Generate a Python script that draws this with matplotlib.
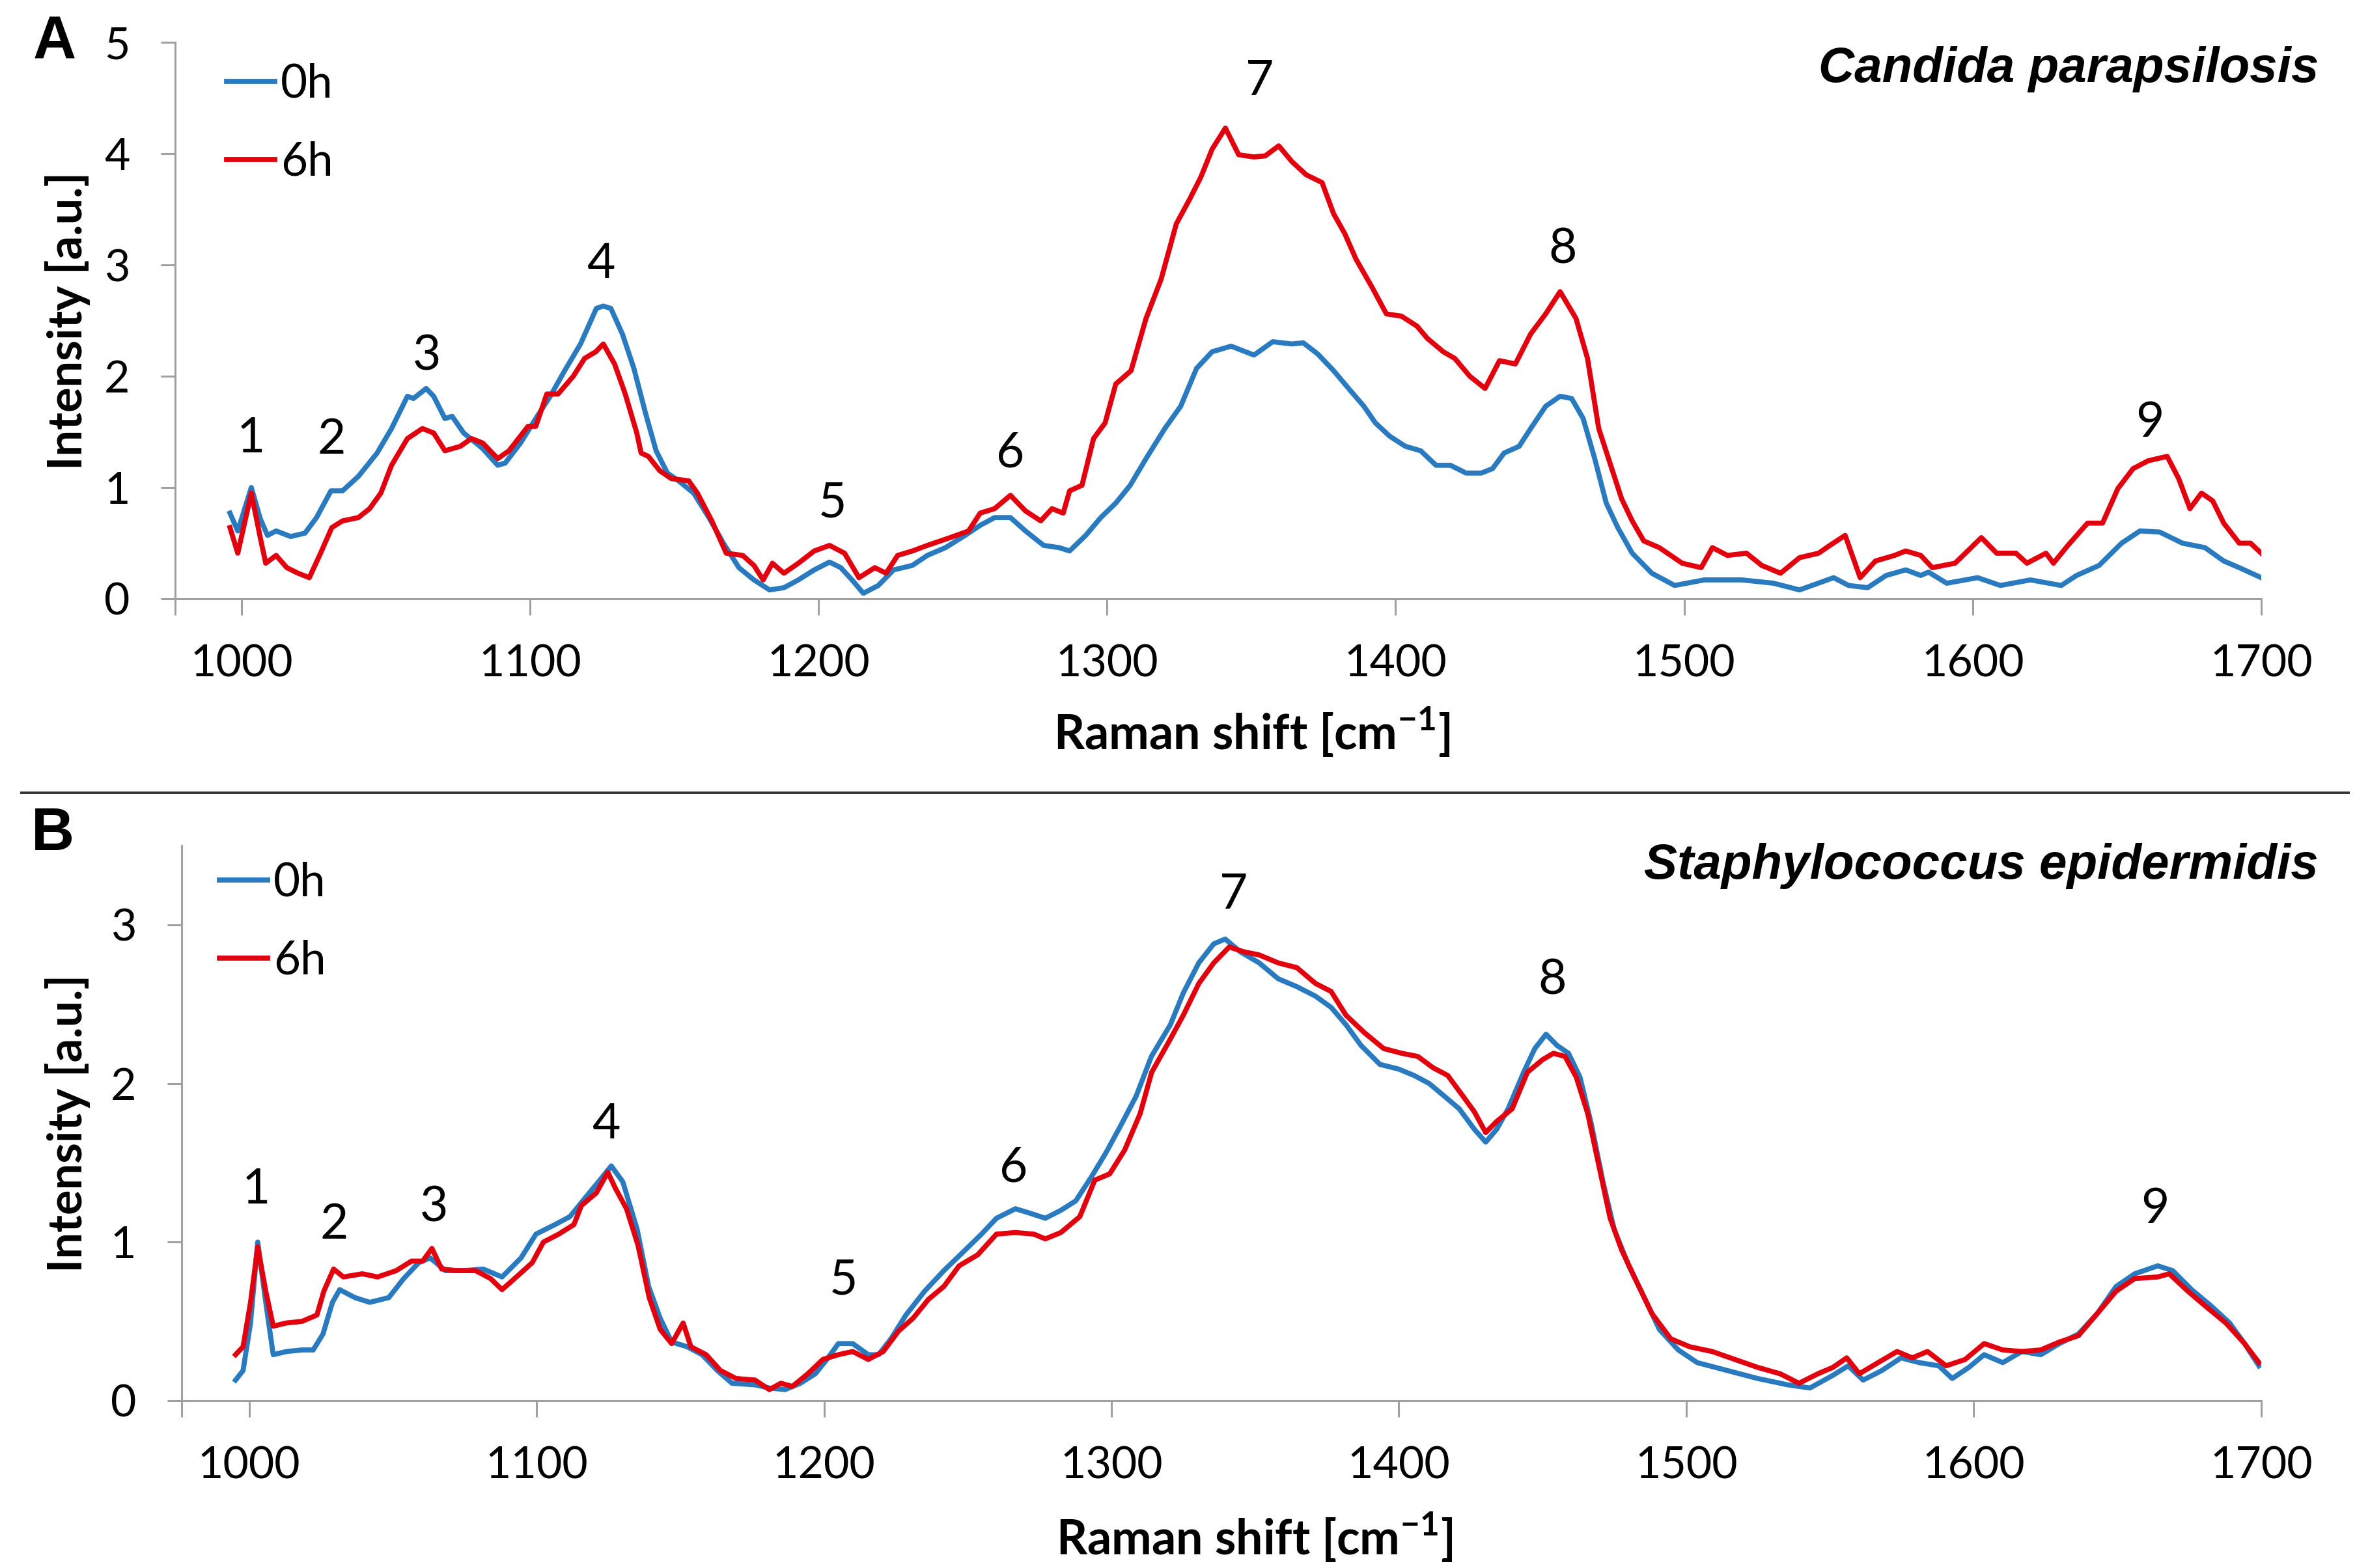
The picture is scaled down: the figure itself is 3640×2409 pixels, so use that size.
import matplotlib
matplotlib.use('Agg')
import matplotlib.pyplot as plt
from matplotlib.lines import Line2D

plt.rcParams['font.family'] = ['Lato', 'DejaVu Sans']
plt.rcParams['mathtext.fontset'] = 'custom'
plt.rcParams['mathtext.rm'] = 'Lato'
plt.rcParams['mathtext.bf'] = 'Lato:bold'

# ---------------- data ----------------
# Panel A: Candida parapsilosis
a0_x = [996, 998.7, 1003.4, 1006.5, 1009, 1012, 1017, 1022, 1026, 1031, 1035, 1040.5, 1047, 1052,
        1057.5, 1059.6, 1064, 1066.6, 1070.5, 1073, 1077, 1083.6, 1088.8, 1091.4, 1096.7, 1102, 1107,
        1112, 1117.5, 1123, 1125.4, 1128, 1132, 1136, 1140, 1143.7, 1147.6, 1151.5, 1156.7, 1162,
        1167, 1172.4, 1177.6, 1183, 1188, 1193, 1198.5, 1203.8, 1207.7, 1211.6, 1215.5, 1220.7, 1226,
        1232.5, 1237.7, 1244, 1250.8, 1256, 1261, 1266.5, 1271.7, 1278, 1283.4, 1287, 1292.6, 1297.8,
        1303, 1308, 1313.5, 1320, 1325.5, 1331, 1336.4, 1343, 1350.9, 1357.4, 1364, 1368, 1373,
        1378.5, 1383.7, 1389, 1393, 1398, 1403.4, 1408.7, 1414, 1419, 1424.4, 1429.7, 1433.6, 1437.6,
        1442.8, 1446.8, 1452, 1457, 1461, 1465, 1469, 1473, 1477, 1482, 1488.8, 1496.7, 1507, 1520,
        1531, 1540, 1551.8, 1557, 1563.6, 1570, 1576.8, 1582, 1584.7, 1591, 1601.7, 1609.6, 1620,
        1630.7, 1636, 1643.8, 1651.6, 1658, 1664.8, 1672.7, 1680.5, 1687, 1692.4, 1700]
a0_y = [0.77, 0.61, 1.00, 0.72, 0.57, 0.61, 0.56, 0.59, 0.73, 0.97, 0.97, 1.10, 1.31, 1.53,
        1.82, 1.80, 1.89, 1.82, 1.62, 1.64, 1.49, 1.35, 1.20, 1.22, 1.40, 1.62, 1.82,
        2.05, 2.29, 2.61, 2.63, 2.61, 2.38, 2.07, 1.67, 1.33, 1.13, 1.06, 0.95, 0.73,
        0.50, 0.28, 0.17, 0.08, 0.10, 0.17, 0.26, 0.33, 0.28, 0.17, 0.05, 0.12, 0.26,
        0.30, 0.39, 0.46, 0.57, 0.66, 0.73, 0.73, 0.61, 0.48, 0.46, 0.43, 0.57, 0.73,
        0.86, 1.02, 1.26, 1.53, 1.73, 2.07, 2.22, 2.27, 2.19, 2.31, 2.29, 2.30, 2.20,
        2.05, 1.89, 1.73, 1.58, 1.46, 1.37, 1.33, 1.20, 1.20, 1.13, 1.13, 1.17, 1.31,
        1.37, 1.53, 1.73, 1.82, 1.80, 1.62, 1.26, 0.86, 0.64, 0.41, 0.23, 0.12, 0.17, 0.17,
        0.14, 0.08, 0.19, 0.12, 0.10, 0.21, 0.26, 0.21, 0.24, 0.14, 0.19, 0.12, 0.17,
        0.12, 0.21, 0.30, 0.50, 0.61, 0.60, 0.50, 0.46, 0.34, 0.28, 0.19]

a6_x = [996, 998.7, 1003.4, 1006.5, 1008.4, 1012, 1015.7, 1019.6, 1023.5, 1027.4, 1031.3, 1035,
        1040.5, 1044.4, 1048.3, 1052, 1057.5, 1062.7, 1066.6, 1070.5, 1075.8, 1079.7, 1083.6, 1088.8,
        1092.7, 1099.3, 1102, 1105.8, 1109.7, 1115, 1118.9, 1122.8, 1125.4, 1129.3, 1133, 1137,
        1138.5, 1141, 1145, 1149, 1155, 1158, 1163, 1168, 1173.7, 1177.6, 1180.8, 1184, 1188, 1193,
        1198.5, 1203.8, 1209, 1214, 1219.5, 1223.4, 1227.4, 1232.5, 1237.7, 1245.6, 1252, 1256, 1261,
        1266.5, 1271.7, 1277, 1280.9, 1284.8, 1287, 1291.3, 1295.3, 1299.3, 1303, 1308.3, 1313.5,
        1318.7, 1324, 1328.6, 1332.5, 1336.4, 1341, 1345.6, 1350.9, 1354.8, 1359.5, 1364, 1369,
        1374.5, 1378.5, 1382.4, 1386.3, 1391.6, 1396.8, 1402, 1407.4, 1411, 1416.5, 1420.5, 1425.7,
        1431, 1436, 1441.5, 1446.8, 1452, 1457, 1462.5, 1466.5, 1470.4, 1474.3, 1478.3, 1482, 1486,
        1491.4, 1499.3, 1505.9, 1509.8, 1515, 1521.6, 1526.9, 1533.4, 1540, 1546.6, 1550.5, 1555.8,
        1561, 1566.3, 1572.9, 1576.8, 1582, 1586, 1593.9, 1603, 1608.3, 1615, 1618.8, 1625.4, 1628,
        1633, 1639.8, 1645, 1650.3, 1655.6, 1660.8, 1667.4, 1671.4, 1675.3, 1679.3, 1683.2, 1687,
        1692.4, 1696.3, 1700]
a6_y = [0.64, 0.41, 0.95, 0.55, 0.32, 0.39, 0.28, 0.23, 0.19, 0.41, 0.64, 0.70,
        0.73, 0.81, 0.95, 1.20, 1.44, 1.53, 1.49, 1.33, 1.37, 1.44, 1.40, 1.26,
        1.33, 1.55, 1.55, 1.84, 1.84, 2.00, 2.16, 2.22, 2.29, 2.11, 1.84, 1.49,
        1.31, 1.28, 1.15, 1.08, 1.06, 0.95, 0.70, 0.41, 0.39, 0.30, 0.17, 0.32, 0.23, 0.32,
        0.43, 0.48, 0.41, 0.19, 0.28, 0.23, 0.39, 0.43, 0.48, 0.55, 0.61, 0.77, 0.81,
        0.93, 0.79, 0.70, 0.81, 0.77, 0.97, 1.02, 1.44, 1.58, 1.93, 2.05, 2.52,
        2.87, 3.37, 3.59, 3.79, 4.04, 4.23, 3.99, 3.97, 3.98, 4.07, 3.93, 3.81,
        3.74, 3.46, 3.28, 3.05, 2.81, 2.56, 2.54, 2.45, 2.34, 2.22, 2.16, 2.00,
        1.89, 2.14, 2.11, 2.38, 2.56, 2.76, 2.52, 2.16, 1.53, 1.22, 0.90, 0.70, 0.52,
        0.46, 0.32, 0.28, 0.46, 0.39, 0.41, 0.30, 0.23, 0.37, 0.41, 0.48, 0.57,
        0.19, 0.34, 0.39, 0.43, 0.39, 0.28, 0.32, 0.55, 0.41, 0.41, 0.32, 0.41, 0.32,
        0.48, 0.68, 0.68, 0.99, 1.17, 1.24, 1.28, 1.08, 0.81, 0.95, 0.88, 0.68,
        0.50, 0.50, 0.41]

# Panel B: Staphylococcus epidermidis
b0_x = [995.3, 997.9, 1000.5, 1003, 1005.8, 1008.4, 1013, 1018.4, 1022.3, 1025.7, 1029, 1031.5,
        1036.8, 1042, 1048.6, 1053.8, 1059, 1063, 1068.3, 1074.9, 1081.4, 1088, 1094.6, 1099.8,
        1106.4, 1111.6, 1117, 1122, 1126, 1130, 1135, 1139, 1143, 1147, 1152.4, 1157.6, 1162.9,
        1168, 1176, 1181, 1186.5, 1191.8, 1197, 1201, 1205, 1210, 1215.4, 1219, 1223.3, 1228.5,
        1235, 1241.7, 1248, 1254.8, 1260, 1266.6, 1272, 1277, 1282.4, 1287.6, 1293, 1298, 1303.4,
        1308.6, 1313.9, 1320.5, 1325, 1330.4, 1335.6, 1339.6, 1344.8, 1351.4, 1358, 1364.5, 1371,
        1376.4, 1381.6, 1386.8, 1393.4, 1400, 1405.3, 1410.5, 1415.8, 1421, 1426.3, 1430.2, 1434,
        1438, 1443.4, 1447.3, 1451.2, 1455, 1459, 1463, 1467, 1471, 1474.9, 1480, 1485.4, 1490.6,
        1497.2, 1503.8, 1514.3, 1524.8, 1535.3, 1543, 1551, 1556.3, 1561.5, 1568, 1574.7, 1581,
        1587.8, 1592.5, 1598.3, 1603.6, 1610.1, 1616.7, 1623.3, 1629.8, 1636.4, 1643, 1649.5, 1656,
        1664, 1669.2, 1675.8, 1682.4, 1689, 1694.2, 1699.2]
b0_y = [0.13, 0.19, 0.49, 1.00, 0.62, 0.29, 0.31, 0.32, 0.32, 0.42, 0.62, 0.70,
        0.65, 0.62, 0.65, 0.77, 0.87, 0.90, 0.82, 0.82, 0.83, 0.78, 0.90, 1.05,
        1.11, 1.16, 1.28, 1.39, 1.48, 1.38, 1.08, 0.72, 0.52, 0.37, 0.34, 0.29, 0.19,
        0.11, 0.10, 0.08, 0.07, 0.11, 0.17, 0.26, 0.36, 0.36, 0.29, 0.29, 0.39, 0.54,
        0.69, 0.82, 0.93, 1.05, 1.15, 1.21, 1.18, 1.15, 1.20, 1.26, 1.41, 1.56, 1.74,
        1.92, 2.17, 2.37, 2.57, 2.76, 2.88, 2.91, 2.83, 2.76, 2.66, 2.61, 2.55,
        2.48, 2.37, 2.24, 2.12, 2.09, 2.05, 2.00, 1.92, 1.84, 1.71, 1.63, 1.71,
        1.84, 2.07, 2.22, 2.31, 2.24, 2.19, 2.04, 1.74, 1.38, 1.08, 0.85, 0.65, 0.45,
        0.32, 0.24, 0.19, 0.14, 0.10, 0.08, 0.16, 0.22, 0.13, 0.19, 0.27, 0.24,
        0.22, 0.14, 0.21, 0.29, 0.24, 0.31, 0.29, 0.36, 0.42, 0.55, 0.72, 0.80,
        0.85, 0.82, 0.70, 0.60, 0.49, 0.36, 0.22]

b6_x = [995.3, 997.9, 1000.5, 1003, 1005.8, 1008.4, 1013, 1018.4, 1023.6, 1026, 1029.4, 1032.8,
        1039.4, 1044.7, 1051.2, 1056.5, 1060.4, 1063.6, 1067, 1072.2, 1078.8, 1084, 1088, 1093,
        1098.5, 1102.4, 1107.7, 1113, 1115.6, 1120.8, 1124.8, 1127.4, 1131.3, 1135.3, 1139.2, 1143,
        1147, 1151, 1153.7, 1159, 1164, 1169.4, 1176, 1181, 1185, 1189, 1194.4, 1199.6, 1205, 1210,
        1215.4, 1220.6, 1226, 1231, 1236.4, 1241.7, 1247, 1253.5, 1260, 1266.6, 1273, 1277, 1282.4,
        1289, 1294.2, 1299.4, 1304.6, 1310, 1314, 1320.5, 1325, 1330.4, 1335.6, 1341, 1346, 1351.4,
        1358, 1364.5, 1371, 1376.4, 1381.6, 1388, 1394.7, 1401, 1406.6, 1411.8, 1417, 1422.3, 1426.3,
        1430.2, 1434, 1439.4, 1444.7, 1450, 1453.8, 1457.8, 1461.7, 1465.7, 1469.6, 1473.5, 1477.5,
        1482.7, 1488, 1494.6, 1501.2, 1509, 1516.9, 1524.8, 1532.6, 1539.2, 1545.8, 1551, 1555.8,
        1560.2, 1566.7, 1573.3, 1578.6, 1583.9, 1590.4, 1597, 1603.6, 1610.1, 1616.7, 1623.3, 1629.8,
        1636.4, 1643, 1649.5, 1656, 1664, 1668, 1674.5, 1681, 1687.7, 1694.2, 1699.2]
b6_y = [0.29, 0.34, 0.62, 0.97, 0.69, 0.47, 0.49, 0.50, 0.54, 0.69, 0.83, 0.78,
        0.80, 0.78, 0.82, 0.88, 0.88, 0.96, 0.83, 0.82, 0.82, 0.77, 0.70, 0.78,
        0.87, 1.00, 1.05, 1.11, 1.23, 1.31, 1.44, 1.34, 1.21, 0.98, 0.65, 0.45,
        0.36, 0.49, 0.34, 0.29, 0.19, 0.14, 0.13, 0.07, 0.11, 0.09, 0.17, 0.26, 0.29, 0.31,
        0.26, 0.31, 0.44, 0.52, 0.64, 0.72, 0.85, 0.92, 1.05, 1.06, 1.05, 1.02, 1.06,
        1.16, 1.39, 1.43, 1.58, 1.81, 2.07, 2.28, 2.43, 2.63, 2.76, 2.86, 2.83, 2.81,
        2.76, 2.73, 2.63, 2.58, 2.43, 2.32, 2.22, 2.19, 2.17, 2.10, 2.05, 1.92, 1.82,
        1.69, 1.76, 1.84, 2.07, 2.15, 2.19, 2.17, 2.04, 1.81, 1.48, 1.15, 0.95,
        0.75, 0.55, 0.39, 0.34, 0.31, 0.26, 0.21, 0.17, 0.11, 0.17, 0.21, 0.27,
        0.17, 0.24, 0.31, 0.27, 0.31, 0.22, 0.26, 0.36, 0.32, 0.31, 0.32, 0.37,
        0.41, 0.55, 0.69, 0.77, 0.78, 0.80, 0.69, 0.59, 0.49, 0.36, 0.24]

peak_labels = ['1', '2', '3', '4', '5', '6', '7', '8', '9']
peakA_x = [1003.4, 1031.3, 1064.3, 1124.6, 1204.8, 1266.5, 1353, 1457.8, 1661.4]
peakA_y = [1.44, 1.43, 2.18, 3.01, 0.86, 1.31, 4.65, 3.14, 1.58]
peakB_x = [1002.6, 1029.7, 1064.4, 1124.2, 1206.7, 1266, 1342.5, 1453.3, 1663]
peakB_y = [1.33, 1.11, 1.22, 1.74, 0.76, 1.47, 3.19, 2.65, 1.21]

series_labels = ['0h', '6h']
titles = ['Candida parapsilosis', 'Staphylococcus epidermidis']
panel_letters = ['A', 'B']
x_ticks = [1000, 1100, 1200, 1300, 1400, 1500, 1600, 1700]
yticksA = [0, 1, 2, 3, 4, 5]
yticksB = [0, 1, 2, 3]

# ---------------- style ----------------
BLUE = '#2A7AC0'
RED = '#E2000F'
AXC = '#A0A0A0'
LW = 2.8

fig = plt.figure(figsize=(18.2, 12.045), dpi=200)
axA = fig.add_axes([0.0739, 0.6181, 0.8802, 0.3549])
axB = fig.add_axes([0.0766, 0.1067, 0.8775, 0.3541])


def style(ax, xmin, ymax, yticks, xlab_y, ylab_x):
    ax.set_xlim(xmin, 1700)
    ax.set_ylim(0, ymax)
    for s in ['top', 'right']:
        ax.spines[s].set_visible(False)
    for s in ['left', 'bottom']:
        ax.spines[s].set_color(AXC)
        ax.spines[s].set_linewidth(1.1)
    ax.set_xticks(x_ticks)
    ax.set_xticks([xmin], minor=True)
    ax.set_yticks(yticks)
    ax.tick_params(axis='x', which='both', direction='out', length=9, width=1.1,
                   color=AXC, pad=16, labelsize=24.5)
    ax.tick_params(axis='y', direction='out', length=8, width=1.1,
                   color=AXC, pad=17, labelsize=24.5)
    ax.set_xlabel(r'Raman shift [cm$^{\mathbf{-1}}$]', fontweight='bold', fontsize=26.5)
    ax.set_ylabel('Intensity [a.u.]', fontweight='bold', fontsize=26)
    ax.xaxis.set_label_coords(0.516, xlab_y)
    ax.xaxis.label.set_va('center')
    ax.yaxis.set_label_coords(ylab_x, 0.5)
    ax.yaxis.label.set_va('center')


for ax, xs0, ys0, xs6, ys6, px, py in [
        (axA, a0_x, a0_y, a6_x, a6_y, peakA_x, peakA_y),
        (axB, b0_x, b0_y, b6_x, b6_y, peakB_x, peakB_y)]:
    ax.plot(xs0, ys0, color=BLUE, lw=LW, solid_joinstyle='round')
    ax.plot(xs6, ys6, color=RED, lw=LW, solid_joinstyle='round')
    for lab, x, y in zip(peak_labels, px, py):
        ax.text(x, y, lab, ha='center', va='center', fontsize=27, color='black')

style(axA, 977, 5, yticksA, -0.24, -0.0515)
style(axB, 976.5, 3.5, yticksB, -0.246, -0.0546)

handles = [Line2D([], [], color=BLUE, lw=LW), Line2D([], [], color=RED, lw=LW)]
for ax, ytop, xl in [(axA, 0.960, 0.0956), (axB, 0.4505, 0.0926)]:
    ax.legend(handles, series_labels, loc='upper left', bbox_to_anchor=(xl, ytop),
              bbox_transform=fig.transFigure, frameon=False, fontsize=25.5,
              handlelength=1.05, handletextpad=0.12, labelspacing=0.78,
              borderpad=0, borderaxespad=0)

fig.text(0.9783, 0.9556, titles[0], ha='right', va='center', fontsize=27.5,
         fontweight='bold', fontstyle='italic', family=['Liberation Sans', 'DejaVu Sans'])
fig.text(0.9783, 0.4475, titles[1], ha='right', va='center', fontsize=27.5,
         fontweight='bold', fontstyle='italic', family=['Liberation Sans', 'DejaVu Sans'])
fig.text(0.023, 0.973, panel_letters[0], ha='center', va='center', fontsize=33,
         fontweight='bold', family=['Liberation Sans', 'DejaVu Sans'])
fig.text(0.0223, 0.4678, panel_letters[1], ha='center', va='center', fontsize=33,
         fontweight='bold', family=['Liberation Sans', 'DejaVu Sans'])

fig.add_artist(Line2D([0.009, 0.991], [0.4945, 0.4945], transform=fig.transFigure,
                      color='#333333', lw=1.4))

fig.savefig('out.png', dpi=200, facecolor='white')
